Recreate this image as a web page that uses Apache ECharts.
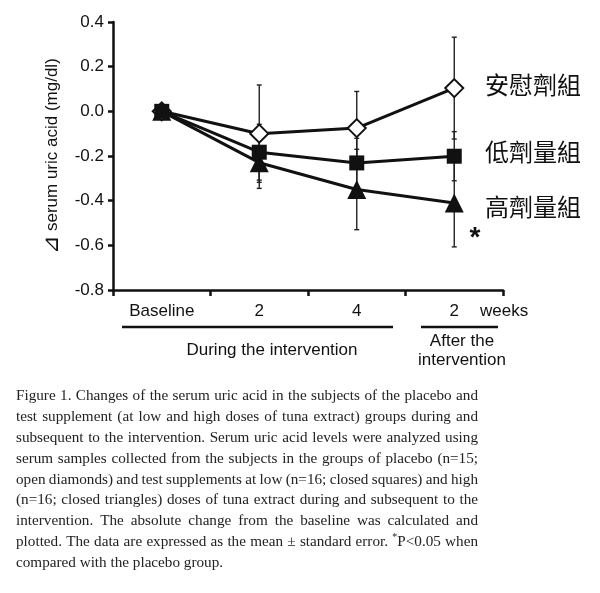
<!DOCTYPE html>
<html><head><meta charset="utf-8">
<script src="https://cdn.jsdelivr.net/npm/echarts@6/dist/echarts.min.js"></script>
<style>html,body{margin:0;padding:0;background:#fff}#c{width:600px;height:593px}</style>
</head><body><div id="c"></div>
<script>
const categories = ['Baseline', '2', '4', '2'];
const placebo = [0, -0.10, -0.075, 0.104];
const placeboErr = [0.015, 0.218, 0.164, 0.228];
const lowDose = [0, -0.183, -0.231, -0.201];
const lowErr = [0.015, 0.125, 0.11, 0.11];
const highDose = [0, -0.23, -0.35, -0.41];
const highErr = [0.015, 0.115, 0.18, 0.197];
const groupNames = ['安慰劑組', '低劑量組', '高劑量組'];
const yTicks = { min: -0.8, max: 0.4, interval: 0.2 };
const captionLines = [
  'Figure 1. Changes of the serum uric acid in the subjects of the placebo and',
  'test supplement (at low and high doses of tuna extract) groups during and',
  'subsequent to the intervention. Serum uric acid levels were analyzed using',
  'serum samples collected from the subjects in the groups of placebo (n=15;',
  'open diamonds) and test supplements at low (n=16; closed squares) and high',
  '(n=16; closed triangles) doses of tuna extract during and subsequent to the',
  'intervention. The absolute change from the baseline was calculated and',
  'plotted. The data are expressed as the mean \u00b1 standard error. *P<0.05 when',
  'compared with the placebo group.'
];

const SANS = '"Liberation Sans", Arial, sans-serif';
const CJK = '"Noto Sans CJK TC", sans-serif';
const SERIF = '"Liberation Serif", "Times New Roman", serif';

function errData(mean, err) { return mean.map((m, i) => [i, m, err[i]]); }
function errSeries(mean, err) {
  return {
    type: 'custom', z: 1, silent: true,
    data: errData(mean, err),
    encode: { x: 0, y: 1 },
    renderItem: function (params, api) {
      const i = api.value(0), m = api.value(1), e = api.value(2);
      const top = api.coord([i, m + e]);
      const bot = api.coord([i, m - e]);
      const cw = 2.5;
      const st = { stroke: '#222', lineWidth: 1.4 };
      return { type: 'group', children: [
        { type: 'line', shape: { x1: top[0], y1: top[1], x2: bot[0], y2: bot[1] }, style: st },
        { type: 'line', shape: { x1: top[0] - cw, y1: top[1], x2: top[0] + cw, y2: top[1] }, style: st },
        { type: 'line', shape: { x1: bot[0] - cw, y1: bot[1], x2: bot[0] + cw, y2: bot[1] }, style: st }
      ]};
    }
  };
}

// caption layout (justified)
const graphics = [];
(function () {
  const fs = 15.2;
  const cv = document.createElement('canvas').getContext('2d');
  const font = fs + 'px ' + SERIF;
  const supFont = '10px ' + SERIF;
  const x0 = 16, fullW = 462, y0 = 396.5, lh = 20.8;
  captionLines.forEach((line, li) => {
    const words = line.split(' ');
    const widths = words.map(w => {
      if (w[0] === '*') { cv.font = supFont; const a = cv.measureText('*').width; cv.font = font; return a + cv.measureText(w.slice(1)).width; }
      cv.font = font; return cv.measureText(w).width;
    });
    cv.font = font;
    const spaceW = cv.measureText(' ').width;
    const total = widths.reduce((a, b) => a + b, 0);
    const last = li === captionLines.length - 1;
    const gap = last ? spaceW : (fullW - total) / (words.length - 1);
    let x = x0;
    const y = y0 + li * lh;
    words.forEach((w, wi) => {
      if (w[0] === '*') {
        cv.font = supFont; const a = cv.measureText('*').width;
        graphics.push({ type: 'text', x: x, y: y - 5, style: { text: '*', font: supFont, fill: '#222', align: 'left', verticalAlign: 'middle' } });
        graphics.push({ type: 'text', x: x + a, y: y, style: { text: w.slice(1), font: font, fill: '#222', align: 'left', verticalAlign: 'middle' } });
      } else {
        graphics.push({ type: 'text', x: x, y: y, style: { text: w, font: font, fill: '#222', align: 'left', verticalAlign: 'middle' } });
      }
      x += widths[wi] + gap;
    });
  });
})();

// annotations
const lineStyle = { stroke: '#111', lineWidth: 2.5 };
graphics.push(
  { type: 'line', shape: { x1: 122, y1: 327, x2: 393, y2: 327 }, style: lineStyle },
  { type: 'line', shape: { x1: 421, y1: 327, x2: 498, y2: 327 }, style: lineStyle },
  { type: 'text', x: 272, y: 350, style: { text: 'During the intervention', font: '17px ' + SANS, fill: '#111', align: 'center', verticalAlign: 'middle' } },
  { type: 'text', x: 462, y: 341, style: { text: 'After the', font: '17px ' + SANS, fill: '#111', align: 'center', verticalAlign: 'middle' } },
  { type: 'text', x: 462, y: 360, style: { text: 'intervention', font: '17px ' + SANS, fill: '#111', align: 'center', verticalAlign: 'middle' } },
  { type: 'text', x: 480, y: 311, style: { text: 'weeks', font: '17px ' + SANS, fill: '#111', align: 'left', verticalAlign: 'middle' } },
  { type: 'text', x: 485, y: 85, style: { text: groupNames[0], font: '24px ' + CJK, fill: '#111', align: 'left', verticalAlign: 'middle' } },
  { type: 'text', x: 485, y: 152, style: { text: groupNames[1], font: '24px ' + CJK, fill: '#111', align: 'left', verticalAlign: 'middle' } },
  { type: 'text', x: 485, y: 207, style: { text: groupNames[2], font: '24px ' + CJK, fill: '#111', align: 'left', verticalAlign: 'middle' } },
  { type: 'text', x: 475, y: 238, style: { text: '*', font: 'bold 28px ' + SANS, fill: '#111', align: 'center', verticalAlign: 'middle' } }
);

const chart = echarts.init(document.getElementById('c'));
chart.setOption({
  animation: false,
  backgroundColor: '#fff',
  grid: { left: 113, right: 97, top: 22, bottom: 303, containLabel: false },
  xAxis: {
    type: 'category', data: categories, boundaryGap: true,
    axisLine: { onZero: false, lineStyle: { color: '#111', width: 2.5 } },
    axisTick: { show: true, length: 6, interval: 0, lineStyle: { color: '#111', width: 2.5 } },
    axisLabel: { margin: 13, fontSize: 17, fontFamily: SANS, color: '#111', interval: 0 },
    splitLine: { show: false }
  },
  yAxis: {
    type: 'value', min: yTicks.min, max: yTicks.max, interval: yTicks.interval,
    name: '{tri|\u22bf} serum uric acid (mg/dl)', nameLocation: 'middle', nameGap: 50,
    nameTextStyle: { fontSize: 17, fontFamily: SANS, color: '#111', rich: { tri: { fontSize: 22, fontFamily: SANS, color: '#111' } } },
    axisLine: { show: true, lineStyle: { color: '#111', width: 2.5 } },
    axisTick: { show: true, length: 5, lineStyle: { color: '#111', width: 2.5 } },
    axisLabel: { margin: 9, fontSize: 17, fontFamily: SANS, color: '#111', formatter: v => v.toFixed(1) },
    splitLine: { show: false }
  },
  series: [
    errSeries(highDose, highErr),
    errSeries(placebo, placeboErr),
    errSeries(lowDose, lowErr),
    { type: 'line', z: 3, data: highDose, symbol: 'triangle', symbolSize: 19, showAllSymbol: true,
      lineStyle: { color: '#111', width: 3 }, itemStyle: { color: '#111', borderColor: '#111', borderWidth: 0 } },
    { type: 'line', z: 4, data: placebo, symbol: 'diamond', symbolSize: 18, showAllSymbol: true,
      lineStyle: { color: '#111', width: 3 }, itemStyle: { color: '#fff', borderColor: '#111', borderWidth: 2 } },
    { type: 'line', z: 5, data: lowDose, symbol: 'rect', symbolSize: 15, showAllSymbol: true,
      lineStyle: { color: '#111', width: 3 }, itemStyle: { color: '#111', borderColor: '#111', borderWidth: 0 } }
  ],
  graphic: graphics
});
</script></body></html>
